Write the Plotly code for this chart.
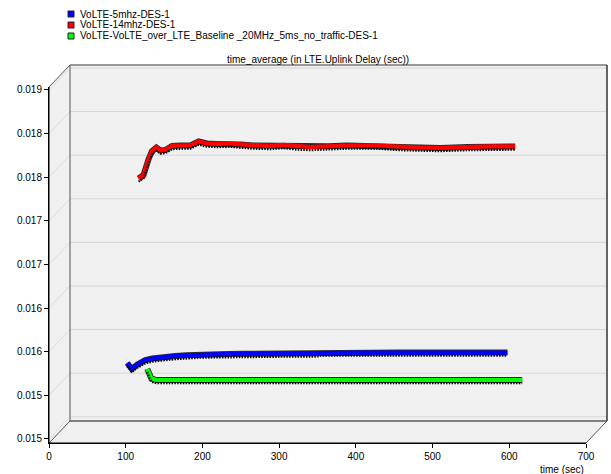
import plotly.graph_objects as go

# ---------------- data ----------------
series_names = [
    "VoLTE-5mhz-DES-1",
    "VoLTE-14mhz-DES-1",
    "VoLTE-VoLTE_over_LTE_Baseline _20MHz_5ms_no_traffic-DES-1",
]
series_colors = ["#0000FF", "#FF0000", "#00FF00"]

blue_t = [97.5, 103.4, 110.6, 115, 121, 130, 138, 150, 160, 175, 190, 210, 229, 250, 271, 300, 344, 349, 400, 453, 500, 550, 593]
blue_v = [0.015827, 0.015758, 0.015810, 0.015835, 0.015861, 0.015878, 0.015890, 0.015900, 0.015907, 0.015916, 0.015924, 0.015927, 0.015930, 0.015933, 0.015936, 0.015936, 0.015936, 0.015947, 0.015947, 0.015947, 0.015947, 0.015947, 0.015947]

red_t = [103.1, 109.6, 116.2, 120.6, 126.2, 131.4, 138, 146.7, 157.5, 170.5, 181.4, 192.3, 205.3, 220.5, 235.7, 252.7, 274.9, 291.8, 310, 327, 350, 375, 414, 444, 470, 496.5, 531.7, 561.7, 594]
red_v = [0.017859, 0.017899, 0.018083, 0.018174, 0.018214, 0.018180, 0.018186, 0.018232, 0.018237, 0.018237, 0.018283, 0.018260, 0.018255, 0.018260, 0.018249, 0.018237, 0.018232, 0.018243, 0.018226, 0.018220, 0.018228, 0.018237, 0.018237, 0.018220, 0.018214, 0.018209, 0.018220, 0.018226, 0.018226]

green_t = [105.3, 110.6, 117, 150, 200, 250, 300, 350, 400, 450, 500, 550, 594]
green_v = [0.015591, 0.015482, 0.015464, 0.015464, 0.015464, 0.015464, 0.015464, 0.015464, 0.015464, 0.015464, 0.015464, 0.015464, 0.015464]

x_tick_vals = [0, 100, 200, 300, 400, 500, 600, 700]
x_tick_text = ["0", "100", "200", "300", "400", "500", "600", "700"]
y_tick_vals = [0.015, 0.0155, 0.016, 0.0165, 0.017, 0.0175, 0.018, 0.0185, 0.019]
y_tick_text = ["0.015", "0.015", "0.016", "0.016", "0.017", "0.017", "0.018", "0.018", "0.019"]

chart_title = "time_average (in LTE.Uplink Delay (sec))"
x_title = "time (sec)"

series = [(blue_t, blue_v), (red_t, red_v), (green_t, green_v)]

# ---------------- geometry ----------------
W, H = 611, 474
ML, MR, MT, MB = 49, 25, 87, 31
PW, PH = W - ML - MR, H - MT - MB
X0, X1 = 0, 700
Y0, Y1 = 0.014952, 0.019034
DX, DY = 21, 22            # depth of the 3D box in px
ddx, ddy = DX / PW, DY / PH
pxx = PW / (X1 - X0)
pxy = PH / (Y1 - Y0)

FONT = "Liberation Sans, Arial, sans-serif"

fig = go.Figure()
# empty trace so the front (labelled) axes are drawn
fig.add_trace(go.Scatter(x=[], y=[], xaxis="x", yaxis="y", showlegend=False, hoverinfo="skip"))

layout_axes = {}
n_series = len(series)
for i, ((t, v), col) in enumerate(zip(series, series_colors)):
    frac = (i + 0.5) / n_series
    ox, oy = DX * frac, DY * frac
    xi = 2 + i
    yi_main = 2 + i
    yi_shadow = 2 + n_series + i
    layout_axes[f"xaxis{xi}"] = dict(overlaying="x", anchor="y", visible=False,
                                     range=[X0 - ox / pxx, X1 - ox / pxx], showgrid=False)
    layout_axes[f"yaxis{yi_main}"] = dict(overlaying="y", anchor="x", visible=False,
                                          range=[Y0 - oy / pxy, Y1 - oy / pxy], showgrid=False)
    layout_axes[f"yaxis{yi_shadow}"] = dict(overlaying="y", anchor="x", visible=False,
                                            range=[Y0 - (oy - 3.2) / pxy, Y1 - (oy - 3.2) / pxy], showgrid=False)
    # hatch below the ribbon
    fig.add_trace(go.Scatter(x=t, y=v, mode="lines", xaxis=f"x{xi}", yaxis=f"y{yi_shadow}",
                             line=dict(color="#000000", width=2.2, dash="1.5px,1.3px"),
                             showlegend=False, hoverinfo="skip"))
    # ribbon outline
    fig.add_trace(go.Scatter(x=t, y=v, mode="lines", xaxis=f"x{xi}", yaxis=f"y{yi_main}",
                             line=dict(color="#2a2a2a", width=6),
                             showlegend=False, hoverinfo="skip"))
    # ribbon body
    fig.add_trace(go.Scatter(x=t, y=v, mode="lines", xaxis=f"x{xi}", yaxis=f"y{yi_main}",
                             line=dict(color=col, width=4.2), name=series_names[i],
                             showlegend=False))

shapes = []
# walls
shapes.append(dict(type="path", xref="paper", yref="paper", layer="below",
                   path=f"M 0 0 L 0 1 L {ddx} {1+ddy} L {1+ddx} {1+ddy} L {1+ddx} {ddy} L 1 0 Z",
                   fillcolor="#F0F0F0", line=dict(width=0)))
# back-wall grid lines and side diagonals
for v in y_tick_vals:
    yp = (v - Y0) / (Y1 - Y0)
    shapes.append(dict(type="line", xref="paper", yref="paper", layer="below",
                       x0=ddx, x1=1 + ddx, y0=yp + ddy, y1=yp + ddy,
                       line=dict(color="#D6D6D6", width=1)))
    shapes.append(dict(type="line", xref="paper", yref="paper", layer="below",
                       x0=0, x1=ddx, y0=yp, y1=yp + ddy,
                       line=dict(color="#DCDCDC", width=1)))
# box edges
edge = lambda x0, y0, x1, y1, c, w: dict(type="line", xref="paper", yref="paper", layer="below",
                                         x0=x0, y0=y0, x1=x1, y1=y1, line=dict(color=c, width=w))
shapes += [
    edge(ddx, ddy, ddx, 1 + ddy, "#555555", 1),
    edge(ddx, ddy, 1 + ddx, ddy, "#111111", 1),
    edge(0, 1, ddx, 1 + ddy, "#555555", 1),
    edge(ddx, 1 + ddy, 1 + ddx, 1 + ddy, "#777777", 1.5),
    edge(1 + ddx, ddy, 1 + ddx, 1 + ddy, "#333333", 1.5),
    edge(0, 0, ddx, ddy, "#555555", 1),
    edge(1, 0, 1 + ddx, ddy, "#555555", 1),
    edge(0, 0, 0, 1, "#000000", 1),
    edge(0, 0, 1, 0, "#000000", 1),
]

annotations = [
    dict(text=chart_title, xref="paper", yref="paper", x=0.5, y=(H - MB - 59) / PH,
         xanchor="center", yanchor="middle", showarrow=False, font=dict(family=FONT, size=10, color="#000")),
    dict(text=x_title, xref="paper", yref="paper", x=1.0, y=(H - MB - 469) / PH,
         xanchor="right", yanchor="middle", showarrow=False, font=dict(family=FONT, size=10, color="#000")),
]
# legend (manual, compact)
leg_rows = [14, 25, 36]
for name, col, ry in zip(series_names, series_colors, leg_rows):
    yc = (H - MB - ry) / PH
    shapes.append(dict(type="rect", xref="paper", yref="paper",
                       x0=(68 - ML) / PW, x1=(74 - ML) / PW, y0=yc - 3 / PH, y1=yc + 3 / PH,
                       fillcolor=col, line=dict(color="#222222", width=1)))
    annotations.append(dict(text=name, xref="paper", yref="paper", x=(78 - ML) / PW, y=yc,
                            xanchor="left", yanchor="middle", showarrow=False,
                            font=dict(family=FONT, size=10, color="#000")))

fig.update_layout(
    width=W, height=H, autosize=False,
    margin=dict(l=ML, r=MR, t=MT, b=MB, pad=0),
    paper_bgcolor="#FFFFFF", plot_bgcolor="rgba(0,0,0,0)",
    showlegend=False,
    font=dict(family=FONT, size=10, color="#000"),
    xaxis=dict(range=[X0, X1], tickvals=x_tick_vals, ticktext=x_tick_text, anchor="y",
               showgrid=False, zeroline=False, showline=True, linecolor="#000", linewidth=1,
               ticks="outside", ticklen=4, tickcolor="#000", tickfont=dict(family=FONT, size=10)),
    yaxis=dict(range=[Y0, Y1], tickvals=y_tick_vals, ticktext=y_tick_text, anchor="x",
               showgrid=False, zeroline=False, showline=True, linecolor="#000", linewidth=1,
               ticks="outside", ticklen=4, tickcolor="#000", tickfont=dict(family=FONT, size=10)),
    shapes=shapes,
    annotations=annotations,
    **layout_axes,
)

fig.write_html("out.html")
